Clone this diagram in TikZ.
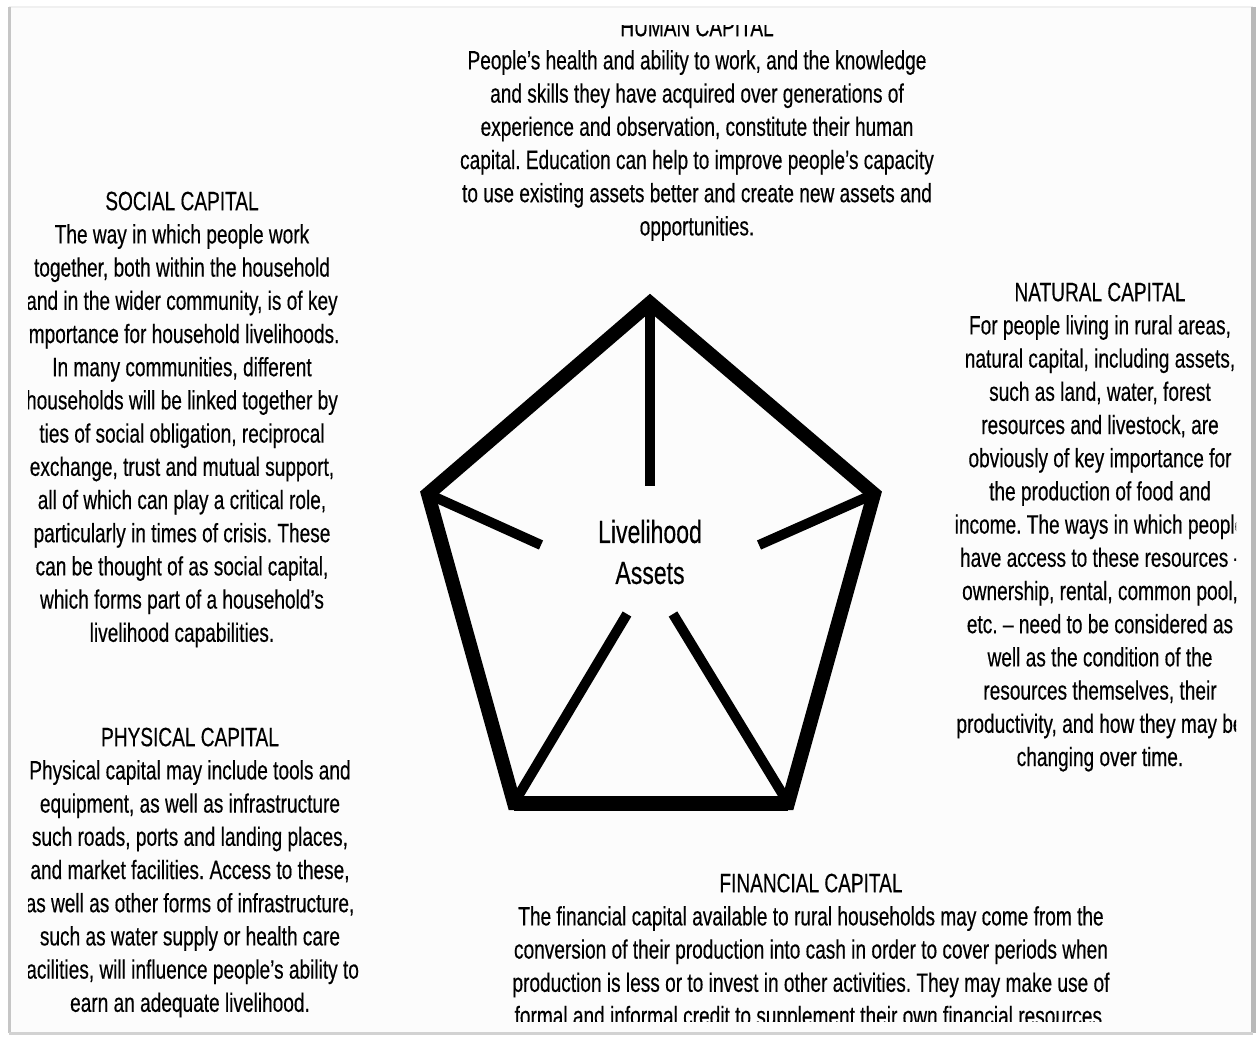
\documentclass[tikz,border=0pt]{standalone}
\usepackage{fontspec}
\setmainfont{Liberation Sans}[FakeStretch=0.72,FakeBold=0.35]
\frenchspacing
\begin{document}
\begin{tikzpicture}[x=1pt,y=-1pt,
  blocktext/.style={anchor=north, inner sep=0pt, align=center,
    font=\fontsize{26.5}{33.2}\selectfont, text=black},
  centretext/.style={inner sep=0pt, align=center,
    font=\fontsize{32}{41}\selectfont, text=black},
  rim/.style={line width=14pt, line join=miter, line cap=butt, draw=black},
  spoke/.style={line width=10pt, line cap=butt, draw=black}]
\useasboundingbox (0,0) rectangle (1260,1036);
\fill[white] (0,0) rectangle (1260,1036);
% page frame with soft shadow
\fill[black!1] (10,7) rectangle (1252,1032);
\draw[gray!12, line width=2pt] (9,7) -- (1253,7);
\draw[gray!45, line width=3pt] (9,7) -- (9,1033);
\draw[gray!55, line width=5pt] (1253,7) -- (1253,1033);
\draw[gray!35, line width=3pt] (9,1033) -- (1253,1033);

\begin{scope}
\clip (28,25) rectangle (1236,1021);
\node[blocktext] (human) at (697,17.5) {HUMAN CAPITAL\\
People’s health and ability to work, and the knowledge\\
and skills they have acquired over generations of\\
experience and observation, constitute their human\\
capital. Education can help to improve people’s capacity\\
to use existing assets better and create new assets and\\
opportunities.};
\node[blocktext] (social) at (182,191.5) {SOCIAL CAPITAL\\
The way in which people work\\
together, both within the household\\
and in the wider community, is of key\\
importance for household livelihoods.\\
In many communities, different\\
households will be linked together by\\
ties of social obligation, reciprocal\\
exchange, trust and mutual support,\\
all of which can play a critical role,\\
particularly in times of crisis. These\\
can be thought of as social capital,\\
which forms part of a household’s\\
livelihood capabilities.};
\node[blocktext] (natural) at (1100,282.5) {NATURAL CAPITAL\\
For people living in rural areas,\\
natural capital, including assets,\\
such as land, water, forest\\
resources and livestock, are\\
obviously of key importance for\\
the production of food and\\
income. The ways in which people\\
have access to these resources -\\
ownership, rental, common pool,\\
etc. – need to be considered as\\
well as the condition of the\\
resources themselves, their\\
productivity, and how they may be\\
changing over time.};
\node[blocktext] (physical) at (190,727.5) {PHYSICAL CAPITAL\\
Physical capital may include tools and\\
equipment, as well as infrastructure\\
such roads, ports and landing places,\\
and market facilities. Access to these,\\
as well as other forms of infrastructure,\\
such as water supply or health care\\
facilities, will influence people’s ability to\\
earn an adequate livelihood.};
\node[blocktext] (financial) at (811,873.5) {FINANCIAL CAPITAL\\
The financial capital available to rural households may come from the\\
conversion of their production into cash in order to cover periods when\\
production is less or to invest in other activities. They may make use of\\
formal and informal credit to supplement their own financial resources.};
\end{scope}

% pentagon
\coordinate (vt) at (650,303);
\coordinate (vr) at (874,494);
\coordinate (vbr) at (788,803);
\coordinate (vbl) at (514,803);
\coordinate (vl) at (428,494);
\coordinate (et) at (650,486);
\coordinate (er) at (759,545);
\coordinate (ebr) at (673,614);
\coordinate (ebl) at (627,614);
\coordinate (el) at (541,545);
\draw[rim] (vt) -- (vr) -- (vbr) -- (vbl) -- (vl) -- cycle;
\draw[line width=15pt, line cap=butt] (vbl) -- (vbr);
\draw[spoke] (vt) -- (et);
\draw[spoke] (vr) -- (er);
\draw[spoke] (vbr) -- (ebr);
\draw[spoke] (vbl) -- (ebl);
\draw[spoke] (vl) -- (el);
\node[centretext] (assets) at (650,552) {Livelihood\\Assets};
\end{tikzpicture}
\end{document}
